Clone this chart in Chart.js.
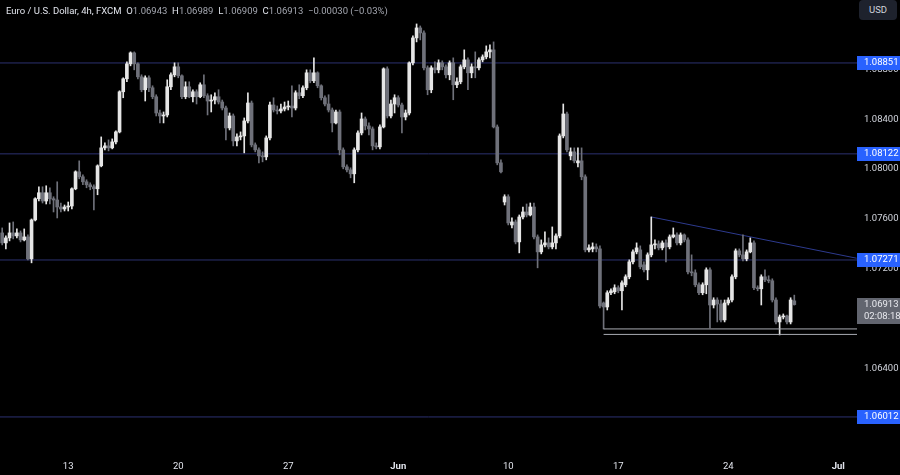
<!DOCTYPE html>
<html>
<head>
<meta charset="utf-8">
<script src="https://cdn.jsdelivr.net/npm/chart.js@4.4.1/dist/chart.umd.min.js"></script>
<style>
  html, body { margin: 0; padding: 0; background: #000; }
  #wrap { position: relative; width: 900px; height: 475px; overflow: hidden; }
  #hdr { position: absolute; left: 6px; top: 5px; font: 9.5px Roboto, "Liberation Sans", sans-serif; color: #e0e3eb; white-space: pre; }
  #hdr .v { color: #a3a6af; }
  #usd { position: absolute; left: 859px; top: 0px; width: 38px; height: 20px; border-radius: 4px; background: #1e222d; color: #d1d4dc; font: 9.5px Roboto, "Liberation Sans", sans-serif; text-align: center; line-height: 20px; }
</style>
</head>
<body>
<div id="wrap">
  <canvas id="c" width="900" height="475"></canvas>
  <div id="hdr">Euro / U.S. Dollar, 4h, FXCM  O<span class="v">1.06943</span>  H<span class="v">1.06989</span>  L<span class="v">1.06909</span>  C<span class="v">1.06913</span>  <span class="v">−0.00030 (−0.03%)</span></div>
  <div id="usd">USD</div>
</div>
<script>
// 4h candles, EUR/USD (bar 0 = first visible bar)
const opens = [
  1.07488,1.07408,1.07448,1.07488,1.07464,1.07488,1.07432,1.07456,1.07280,1.07592,
  1.07762,1.07810,1.07744,1.07810,1.07762,1.07752,1.07696,1.07680,1.07696,1.07704,
  1.07842,1.07978,1.07938,1.07898,1.07874,1.07858,1.07842,1.08026,1.08170,1.08186,
  1.08170,1.08218,1.08298,1.08620,1.08724,1.08844,1.08932,1.08844,1.08740,1.08636,
  1.08732,1.08652,1.08580,1.08450,1.08426,1.08434,1.08660,1.08756,1.08820,1.08748,
  1.08580,1.08660,1.08580,1.08620,1.08580,1.08676,1.08588,1.08546,1.08554,1.08580,
  1.08538,1.08490,1.08330,1.08426,1.08226,1.08258,1.08266,1.08386,1.08530,1.08194,
  1.08154,1.08106,1.08098,1.08250,1.08514,1.08474,1.08466,1.08482,1.08498,1.08506,
  1.08490,1.08612,1.08588,1.08652,1.08772,1.08708,1.08772,1.08668,1.08572,1.08522,
  1.08474,1.08370,1.08458,1.08154,1.08018,1.07994,1.07962,1.08154,1.08290,1.08402,
  1.08346,1.08322,1.08186,1.08178,1.08338,1.08804,1.08426,1.08522,1.08572,1.08514,
  1.08418,1.08450,1.08852,1.09052,1.09132,1.09092,1.08812,1.08636,1.08812,1.08796,
  1.08852,1.08820,1.08756,1.08852,1.08676,1.08700,1.08820,1.08876,1.08772,1.08820,
  1.08812,1.08876,1.08900,1.08940,1.08956,1.08338,1.08050,1.07736,1.07778,1.07552,
  1.07576,1.07416,1.07616,1.07656,1.07632,1.07696,1.07456,1.07336,1.07392,1.07408,
  1.07376,1.07408,1.07464,1.08266,1.08442,1.08106,1.08138,1.08050,1.08066,1.07938,
  1.07352,1.07360,1.07376,1.07360,1.06926,1.06894,1.07008,1.07016,1.07048,1.07024,
  1.07072,1.07136,1.07256,1.07336,1.07352,1.07232,1.07192,1.07312,1.07392,1.07400,
  1.07368,1.07408,1.07376,1.07456,1.07472,1.07408,1.07472,1.07432,1.07176,1.07168,
  1.07072,1.07008,1.07072,1.07192,1.06910,1.06950,1.06918,1.06790,1.06926,1.06950,
  1.07136,1.07344,1.07312,1.07280,1.07336,1.07408,1.07048,1.07040,1.07136,1.07112,
  1.07104,1.06950,1.06774,1.06814,1.06822,1.06774,1.06943
];
const highs = [
  1.07528,1.07464,1.07568,1.07576,1.07520,1.07504,1.07520,1.07472,1.07600,1.07770,
  1.07858,1.07858,1.07866,1.07850,1.07778,1.07898,1.07728,1.07712,1.07736,1.07850,
  1.07986,1.08066,1.07954,1.07914,1.07890,1.07874,1.08034,1.08258,1.08210,1.08234,
  1.08242,1.08306,1.08628,1.08732,1.08860,1.08940,1.08940,1.08852,1.08756,1.08748,
  1.08748,1.08668,1.08596,1.08474,1.08458,1.08716,1.08772,1.08852,1.08852,1.08756,
  1.08700,1.08700,1.08636,1.08636,1.08692,1.08756,1.08604,1.08596,1.08612,1.08636,
  1.08554,1.08506,1.08450,1.08442,1.08282,1.08298,1.08410,1.08612,1.08546,1.08210,
  1.08170,1.08138,1.08266,1.08538,1.08572,1.08506,1.08522,1.08538,1.08546,1.08668,
  1.08628,1.08676,1.08668,1.08796,1.08796,1.08892,1.08780,1.08676,1.08588,1.08596,
  1.08490,1.08474,1.08474,1.08170,1.08034,1.08010,1.08170,1.08306,1.08450,1.08418,
  1.08370,1.08338,1.08210,1.08354,1.08812,1.08820,1.08554,1.08596,1.08588,1.08530,
  1.08474,1.08860,1.09068,1.09164,1.09148,1.09108,1.08828,1.08828,1.08860,1.08876,
  1.08868,1.08836,1.08868,1.08892,1.08732,1.08836,1.08956,1.08892,1.08844,1.08940,
  1.08892,1.08916,1.08988,1.08996,1.09020,1.08354,1.08074,1.07794,1.07794,1.07608,
  1.07592,1.07632,1.07696,1.07720,1.07728,1.07728,1.07472,1.07432,1.07496,1.07448,
  1.07536,1.07480,1.08282,1.08522,1.08458,1.08170,1.08170,1.08170,1.08170,1.07954,
  1.07392,1.07408,1.07400,1.07384,1.06934,1.07024,1.07040,1.07072,1.07064,1.07104,
  1.07152,1.07272,1.07352,1.07408,1.07384,1.07256,1.07328,1.07616,1.07432,1.07424,
  1.07424,1.07432,1.07472,1.07528,1.07488,1.07488,1.07480,1.07448,1.07312,1.07192,
  1.07088,1.07088,1.07208,1.07208,1.06968,1.06968,1.06950,1.06950,1.06968,1.07152,
  1.07360,1.07360,1.07472,1.07352,1.07448,1.07424,1.07064,1.07152,1.07192,1.07144,
  1.07120,1.06968,1.06830,1.06838,1.06830,1.06968,1.06989
];
const lows = [
  1.07392,1.07360,1.07424,1.07440,1.07448,1.07416,1.07424,1.07272,1.07248,1.07584,
  1.07744,1.07728,1.07720,1.07720,1.07656,1.07608,1.07656,1.07664,1.07664,1.07680,
  1.07834,1.07922,1.07874,1.07850,1.07834,1.07672,1.07794,1.08018,1.08154,1.08146,
  1.08162,1.08202,1.08290,1.08572,1.08700,1.08828,1.08796,1.08724,1.08620,1.08546,
  1.08620,1.08564,1.08426,1.08370,1.08370,1.08418,1.08636,1.08740,1.08732,1.08564,
  1.08564,1.08572,1.08538,1.08522,1.08572,1.08572,1.08434,1.08458,1.08522,1.08522,
  1.08474,1.08234,1.08314,1.08186,1.08186,1.08234,1.08130,1.08370,1.08178,1.08138,
  1.08050,1.08058,1.08074,1.08234,1.08458,1.08442,1.08450,1.08466,1.08474,1.08418,
  1.08474,1.08564,1.08572,1.08636,1.08692,1.08692,1.08652,1.08554,1.08506,1.08458,
  1.08298,1.08362,1.08114,1.08002,1.07978,1.07930,1.07890,1.08138,1.08274,1.08314,
  1.08274,1.08154,1.08162,1.08162,1.08330,1.08410,1.08410,1.08450,1.08498,1.08290,
  1.08394,1.08434,1.08836,1.09020,1.09036,1.08796,1.08596,1.08612,1.08772,1.08772,
  1.08796,1.08732,1.08716,1.08556,1.08652,1.08684,1.08804,1.08636,1.08732,1.08732,
  1.08796,1.08860,1.08884,1.08892,1.08330,1.08034,1.07970,1.07712,1.07552,1.07528,
  1.07400,1.07328,1.07600,1.07616,1.07624,1.07440,1.07208,1.07320,1.07376,1.07360,
  1.07360,1.07360,1.07448,1.08250,1.08138,1.08074,1.08050,1.08018,1.07914,1.07336,
  1.07336,1.07336,1.07336,1.06886,1.06718,1.06870,1.06992,1.07000,1.07008,1.06870,
  1.07056,1.07120,1.07240,1.07320,1.07200,1.07176,1.07112,1.07296,1.07360,1.07352,
  1.07352,1.07256,1.07360,1.07448,1.07392,1.07392,1.07416,1.07160,1.07144,1.07056,
  1.06992,1.06992,1.07000,1.06726,1.06886,1.06774,1.06774,1.06774,1.06910,1.06934,
  1.07120,1.07296,1.07264,1.07264,1.07328,1.07032,1.07024,1.06910,1.07096,1.07088,
  1.06934,1.06758,1.06670,1.06798,1.06758,1.06758,1.06909
];
const closes = [
  1.07408,1.07448,1.07488,1.07464,1.07488,1.07432,1.07456,1.07280,1.07592,1.07762,
  1.07810,1.07744,1.07810,1.07762,1.07752,1.07696,1.07680,1.07696,1.07704,1.07842,
  1.07978,1.07938,1.07898,1.07874,1.07858,1.07842,1.08026,1.08170,1.08186,1.08170,
  1.08218,1.08298,1.08620,1.08724,1.08844,1.08932,1.08844,1.08740,1.08636,1.08732,
  1.08652,1.08580,1.08450,1.08426,1.08434,1.08660,1.08756,1.08820,1.08748,1.08580,
  1.08660,1.08580,1.08620,1.08580,1.08676,1.08588,1.08546,1.08554,1.08580,1.08538,
  1.08490,1.08330,1.08426,1.08226,1.08258,1.08266,1.08386,1.08530,1.08194,1.08154,
  1.08106,1.08098,1.08250,1.08514,1.08474,1.08466,1.08482,1.08498,1.08506,1.08490,
  1.08612,1.08588,1.08652,1.08772,1.08708,1.08772,1.08668,1.08572,1.08522,1.08474,
  1.08370,1.08458,1.08154,1.08018,1.07994,1.07962,1.08154,1.08290,1.08402,1.08346,
  1.08322,1.08186,1.08178,1.08338,1.08804,1.08426,1.08522,1.08572,1.08514,1.08418,
  1.08450,1.08852,1.09052,1.09132,1.09092,1.08812,1.08636,1.08812,1.08796,1.08852,
  1.08820,1.08756,1.08852,1.08676,1.08700,1.08820,1.08876,1.08772,1.08820,1.08812,
  1.08876,1.08900,1.08940,1.08956,1.08338,1.08050,1.07978,1.07778,1.07568,1.07576,
  1.07416,1.07616,1.07656,1.07632,1.07696,1.07456,1.07336,1.07392,1.07408,1.07376,
  1.07408,1.07464,1.08266,1.08442,1.08154,1.08138,1.08066,1.08066,1.07938,1.07352,
  1.07368,1.07376,1.07360,1.06902,1.06894,1.07008,1.07024,1.07048,1.07024,1.07088,
  1.07136,1.07256,1.07336,1.07368,1.07216,1.07192,1.07312,1.07392,1.07400,1.07368,
  1.07408,1.07376,1.07456,1.07472,1.07408,1.07472,1.07432,1.07176,1.07168,1.07072,
  1.07008,1.07072,1.07192,1.06910,1.06950,1.06918,1.06790,1.06926,1.06950,1.07136,
  1.07344,1.07312,1.07280,1.07336,1.07408,1.07048,1.07040,1.07136,1.07112,1.07104,
  1.06950,1.06774,1.06814,1.06822,1.06774,1.06950,1.06913
];

// axis labels
const xTickPos = [18, 48, 78, 108, 138, 168, 198, 228];
const xTickLabels = ['13', '20', '27', 'Jun', '10', '17', '24', 'Jul'];
const monthLabels = ['Jun', 'Jul'];
const yTickVals = [1.060, 1.064, 1.068, 1.072, 1.076, 1.080, 1.084, 1.088];

// drawn levels
const levels = [1.08851, 1.08122, 1.07271, 1.06012];
const trendX = [177, 233];
const trendY = [1.07616, 1.07285];
const supportStart = 164;
const supportLevels = [1.06718, 1.06674];
const countdown = '02:08:18';

const X_MIN = -0.6, X_MAX = 233.1;
const Y_MIN = 1.05771, Y_MAX = 1.09356;
const FONT = 'Roboto, "Liberation Sans", sans-serif';
const FSIZE = 9.5;
const BULL = '#e6e6e6';
const BEAR = '#6f717a';

const idx = closes.map((c, i) => i);
const colors = idx.map(i => closes[i] >= opens[i] ? BULL : BEAR);

function hline(y, x0, color, order) {
  return {
    type: 'line', data: [{x: x0, y: y}, {x: X_MAX, y: y}],
    borderColor: color, borderWidth: 1, pointRadius: 0, order: order
  };
}

const datasets = [
  {
    type: 'bar', data: idx.map(i => ({x: i, y: [opens[i], closes[i]]})),
    backgroundColor: colors, barThickness: 3, grouped: false, minBarLength: 1, order: 1
  },
  {
    type: 'bar', data: idx.map(i => ({x: i, y: [lows[i], highs[i]]})),
    backgroundColor: colors, barThickness: 1, grouped: false, order: 2
  },
  ...levels.map(v => hline(v, X_MIN, '#2c3170', 3)),
  {
    type: 'line', data: [{x: trendX[0], y: trendY[0]}, {x: trendX[1], y: trendY[1]}],
    borderColor: '#2d3a8e', borderWidth: 1, pointRadius: 0, order: 3
  },
  ...supportLevels.map(v => hline(v, supportStart, '#a9abb2', 0))
];

// price tags on the right axis
const priceTags = {
  id: 'priceTags',
  afterDraw(chart) {
    const {ctx, chartArea, scales: {y}} = chart;
    const x0 = chartArea.right;
    ctx.save();
    ctx.font = FSIZE + 'px ' + FONT;
    ctx.textBaseline = 'middle';
    ctx.textAlign = 'left';
    levels.forEach(v => {
      const py = Math.round(y.getPixelForValue(v));
      ctx.fillStyle = '#2962ff';
      ctx.fillRect(x0, py - 7, 900 - x0, 14);
      ctx.fillStyle = '#ffffff';
      ctx.fillText(v.toFixed(5), x0 + 7, py);
    });
    const last = closes[closes.length - 1];
    const py = Math.round(y.getPixelForValue(last));
    ctx.fillStyle = '#62656f';
    ctx.fillRect(x0, py - 7, 900 - x0, 26);
    ctx.fillStyle = '#e8e9ee';
    ctx.fillText(last.toFixed(5), x0 + 7, py);
    ctx.fillText(countdown, x0 + 7, py + 12);
    ctx.restore();
  }
};

function noPad(s) {
  s.paddingTop = 0; s.paddingBottom = 0; s.paddingLeft = 0; s.paddingRight = 0;
}

new Chart(document.getElementById('c'), {
  type: 'bar',
  data: { datasets: datasets },
  options: {
    responsive: false,
    animation: false,
    events: [],
    layout: { padding: 0 },
    plugins: { legend: { display: false }, tooltip: { enabled: false } },
    scales: {
      x: {
        type: 'linear', min: X_MIN, max: X_MAX, offset: false,
        grid: { display: false, drawTicks: false }, border: { display: false },
        afterBuildTicks: s => { s.ticks = xTickPos.map(v => ({value: v})); },
        afterFit: s => { s.height = 28; noPad(s); },
        ticks: {
          color: '#e0e3eb', padding: 14, maxRotation: 0, autoSkip: false,
          font: c => ({family: FONT, size: FSIZE, weight: monthLabels.includes(xTickLabels[c.index]) ? 'bold' : 'normal'}),
          callback: (v, i) => xTickLabels[i]
        }
      },
      y: {
        position: 'right', min: Y_MIN, max: Y_MAX,
        grid: { display: false, drawTicks: false }, border: { display: false },
        afterBuildTicks: s => { s.ticks = yTickVals.map(v => ({value: v})); },
        afterFit: s => { s.width = 43; noPad(s); },
        ticks: {
          color: '#d1d4dc', padding: 7, font: { family: FONT, size: FSIZE },
          callback: v => v.toFixed(5)
        }
      }
    }
  },
  plugins: [priceTags]
});
</script>
</body>
</html>
